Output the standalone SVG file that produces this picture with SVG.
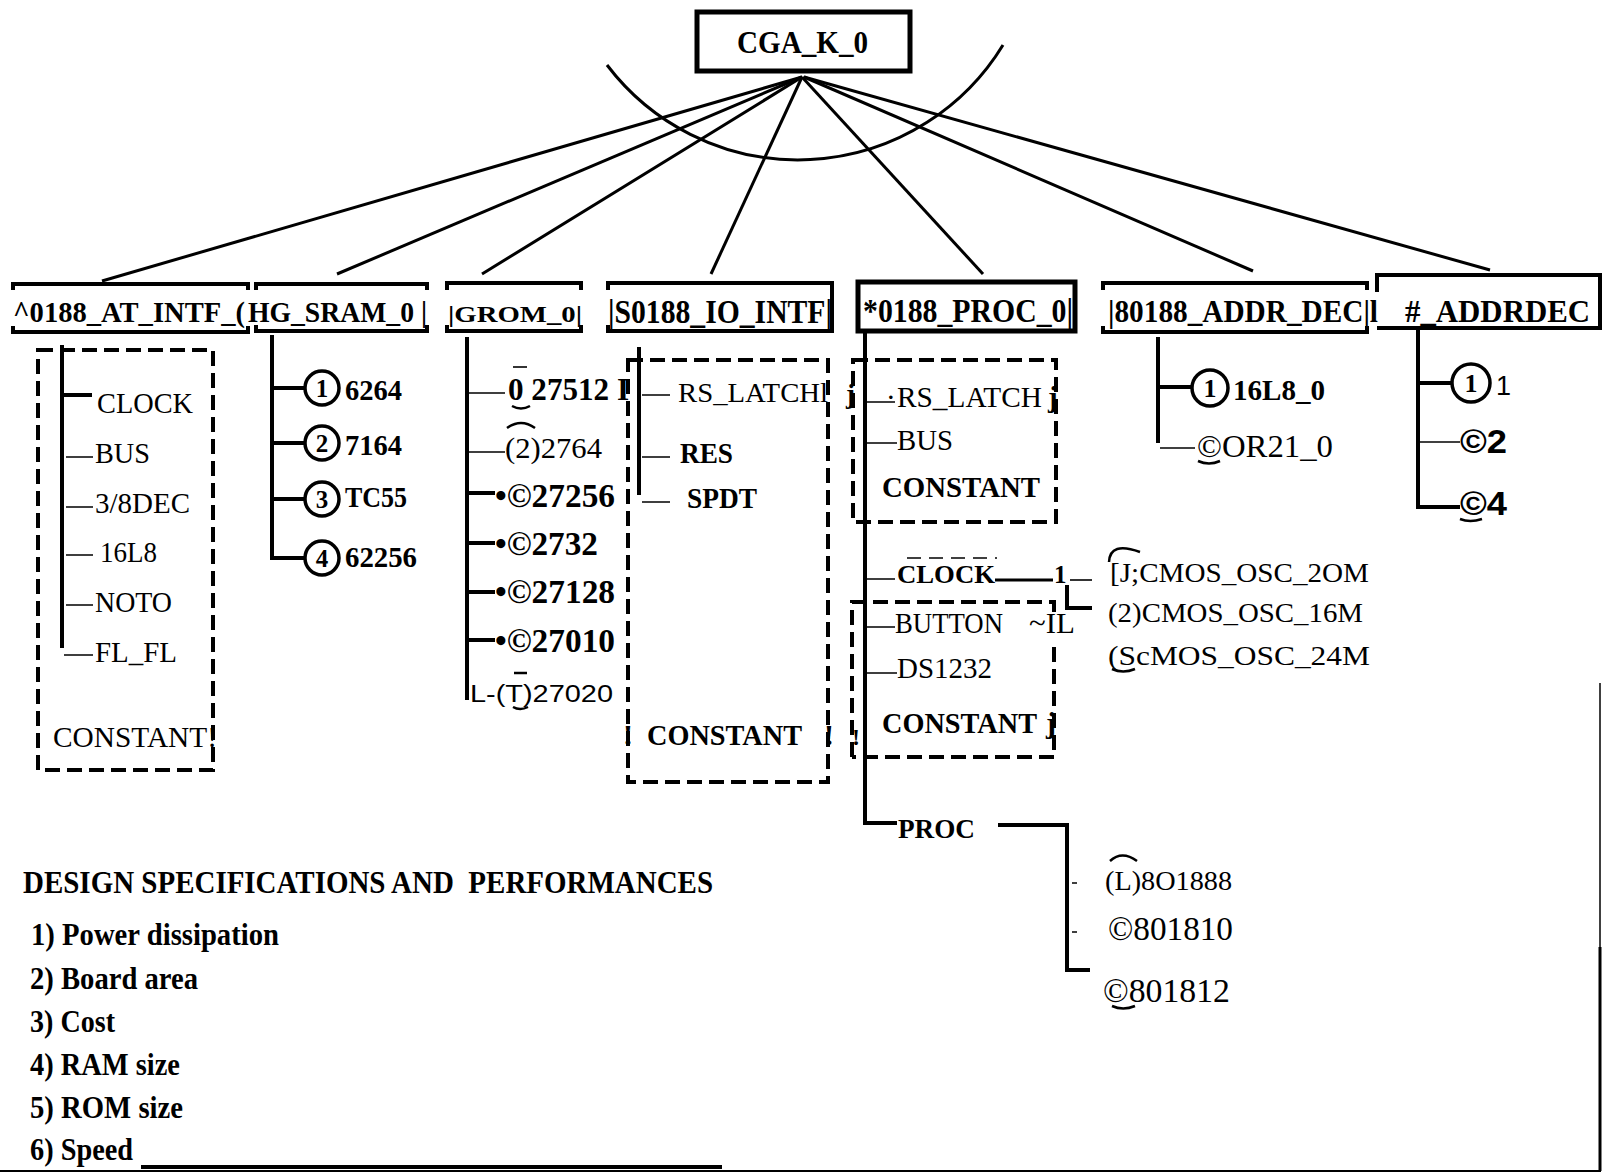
<svg xmlns="http://www.w3.org/2000/svg" width="1602" height="1173" viewBox="0 0 1602 1173">
<style>
.t{font-family:"Liberation Serif","Times New Roman",serif;fill:#000}
.s{font-family:"Liberation Sans",Arial,sans-serif;fill:#000}
.b{font-weight:bold}
.ln{stroke:#000;fill:none;stroke-width:4}
.th{stroke:#000;fill:none;stroke-width:1.6}
.hub{stroke:#000;fill:none;stroke-width:3}
.dash{stroke:#000;fill:none;stroke-width:4;stroke-dasharray:15 7}
.cir{stroke:#000;fill:#fff;stroke-width:3.5}
.mk{stroke:#000;fill:none;stroke-width:2.5}
</style>
<rect width="1602" height="1173" fill="#fff"/>

<g id="connectors">
  <path class="hub" d="M607 65 A240 240 0 0 0 1003 45"/>
  <path class="hub" d="M802 77 L102 281"/>
  <path class="hub" d="M802 77 L337 274"/>
  <path class="hub" d="M802 77 L482 274"/>
  <path class="hub" d="M802 77 L711 274"/>
  <path class="hub" d="M802 77 L983 274"/>
  <path class="hub" d="M804 77 L1253 271"/>
  <path class="hub" d="M804 77 L1490 270"/>
  <!-- AT_INTF tree -->
  <path class="ln" d="M62 345 V648"/>
  <path class="ln" d="M62 395 H92"/>
  <path class="th" d="M66 457 H93 M66 507 H93 M66 555 H93 M66 605 H93 M64 655 H93"/>
  <!-- SRAM tree -->
  <path class="ln" d="M272 335 V558 H305 M272 388 H305 M272 499 H305"/>
  <path class="ln" stroke-width="5" d="M272 443 H305"/>
  <!-- GROM tree -->
  <path class="ln" d="M467 337 V700"/>
  <path class="th" d="M467 393 H505 M467 452 H505"/>
  <path class="ln" d="M467 493 H495 M467 543 H495 M467 592 H495 M467 640 H495"/>
  <!-- IO tree -->
  <path class="ln" d="M639 347 V495"/>
  <path class="th" d="M642 395 H670 M642 457 H670 M642 502 H670"/>
  <!-- PROC tree -->
  <path class="ln" d="M865 331 V823 H897"/>
  <path class="th" d="M865 402 H895 M865 443 H897 M865 579 H895 M865 627 H895 M865 673 H897"/>
  <path class="hub" d="M995 580 H1053"/>
  <path class="th" d="M1070 580 H1092"/>
  <path class="ln" stroke-width="5" d="M1067 585 V608 H1092"/>
  <path class="th" stroke-width="2.5" stroke-dasharray="14 8" d="M907 558 H997"/>
  <path class="ln" d="M998 825 H1067 V970 H1090"/>
  <path class="th" d="M1072 883 H1077 M1072 932 H1077"/>
  <!-- ADDR_DEC tree -->
  <path class="ln" d="M1158 337 V443 M1158 387 H1192"/>
  <path class="th" d="M1160 448 H1195"/>
  <!-- #_ADDRDEC tree -->
  <path class="ln" d="M1418 330 V507 H1460"/>
  <path class="ln" stroke-width="5" d="M1418 383 H1453"/>
  <path class="th" stroke-width="2" d="M1418 442 H1460"/>
</g>

<g id="cga_k_0">
  <rect x="697" y="12" width="213" height="59" fill="none" stroke="#000" stroke-width="5"/>
  <text class="t b" x="737" y="53" font-size="31" textLength="131" lengthAdjust="spacingAndGlyphs">CGA_K_0</text>
</g>

<g id="at_intf">
  <path class="ln" d="M13 290 V284 H248 V290 M13 326 V332 H248 V326"/>
  <text class="t b" x="13" y="322" font-size="29" textLength="232" lengthAdjust="spacingAndGlyphs">^0188_AT_INTF_(</text>
  <rect class="dash" x="38" y="350" width="175" height="420"/>
  <text class="t" x="97" y="413" font-size="30" textLength="96" lengthAdjust="spacingAndGlyphs">CLOCK</text>
  <text class="t" x="95" y="463" font-size="30" textLength="55" lengthAdjust="spacingAndGlyphs">BUS</text>
  <text class="t" x="95" y="513" font-size="30" textLength="95" lengthAdjust="spacingAndGlyphs">3/8DEC</text>
  <text class="t" x="100" y="562" font-size="30" textLength="57" lengthAdjust="spacingAndGlyphs">16L8</text>
  <text class="t" x="95" y="612" font-size="30" textLength="77" lengthAdjust="spacingAndGlyphs">NOTO</text>
  <text class="t" x="95" y="662" font-size="30" textLength="82" lengthAdjust="spacingAndGlyphs">FL_FL</text>
  <text class="t" x="53" y="747" font-size="30" textLength="164" lengthAdjust="spacingAndGlyphs">CONSTANT!</text>
</g>

<g id="sram">
  <path class="ln" d="M256 290 V284 H427 V290 M256 325 V331 H427 V325"/>
  <text class="t b" x="248" y="322" font-size="29" textLength="179" lengthAdjust="spacingAndGlyphs">HG_SRAM_0 |</text>
  <circle class="cir" cx="322" cy="388" r="17"/>
  <circle class="cir" cx="322" cy="443" r="17"/>
  <circle class="cir" cx="322" cy="499" r="17"/>
  <circle class="cir" cx="322" cy="558" r="17"/>
  <text class="t b" x="322" y="397" font-size="25" text-anchor="middle">1</text>
  <text class="t b" x="322" y="452" font-size="25" text-anchor="middle">2</text>
  <text class="t b" x="322" y="508" font-size="25" text-anchor="middle">3</text>
  <text class="t b" x="322" y="567" font-size="25" text-anchor="middle">4</text>
  <text class="t b" x="345" y="400" font-size="30" textLength="57" lengthAdjust="spacingAndGlyphs">6264</text>
  <text class="t b" x="345" y="455" font-size="30" textLength="57" lengthAdjust="spacingAndGlyphs">7164</text>
  <text class="t b" x="345" y="507" font-size="30" textLength="62" lengthAdjust="spacingAndGlyphs">TC55</text>
  <text class="t b" x="345" y="567" font-size="30" textLength="72" lengthAdjust="spacingAndGlyphs">62256</text>
</g>

<g id="grom">
  <path class="ln" d="M447 290 V283 H581 V290 M447 325 V331 H581 V325"/>
  <text class="t b" x="448" y="322" font-size="24" textLength="134" lengthAdjust="spacingAndGlyphs">|GROM_0|</text>
  <text class="t b" x="508" y="400" font-size="32" textLength="121" lengthAdjust="spacingAndGlyphs">0 27512 I</text>
  <text class="t" x="505" y="458" font-size="30" textLength="97" lengthAdjust="spacingAndGlyphs">(2)2764</text>
  <text class="t b" x="495" y="507" font-size="33" textLength="120" lengthAdjust="spacingAndGlyphs">•©27256</text>
  <text class="t b" x="495" y="555" font-size="33" textLength="103" lengthAdjust="spacingAndGlyphs">•©2732</text>
  <text class="t b" x="495" y="603" font-size="33" textLength="120" lengthAdjust="spacingAndGlyphs">•©27128</text>
  <text class="t b" x="495" y="652" font-size="33" textLength="120" lengthAdjust="spacingAndGlyphs">•©27010</text>
  <text class="s" x="470" y="702" font-size="23" textLength="143" lengthAdjust="spacingAndGlyphs">L-(T)27020</text>
  <path class="th" d="M513 367 H527"/>
  <path class="mk" d="M512 406 Q521 411 530 406"/>
  <path class="mk" stroke-width="3" d="M507 428 Q521 418 535 428"/>
  <path class="mk" stroke-width="3" d="M514 673 H527"/>
  <path class="mk" d="M513 707 Q520 711 528 707"/>
</g>

<g id="io_intf">
  <path class="ln" d="M608 290 V283 H832 V331 H608 V325"/>
  <text class="t b" x="608" y="323" font-size="34" textLength="224" lengthAdjust="spacingAndGlyphs">|S0188_IO_INTF|</text>
  <rect class="dash" x="628" y="360" width="200" height="422"/>
  <text class="t" x="678" y="402" font-size="28" textLength="150" lengthAdjust="spacingAndGlyphs">RS_LATCHl</text>
  <text class="t b" x="680" y="463" font-size="30" textLength="53" lengthAdjust="spacingAndGlyphs">RES</text>
  <text class="t b" x="687" y="508" font-size="30" textLength="70" lengthAdjust="spacingAndGlyphs">SPDT</text>
  <text class="t b" y="745" font-size="30"><tspan x="623">!</tspan><tspan x="647" textLength="155" lengthAdjust="spacingAndGlyphs">CONSTANT</tspan><tspan x="824">!</tspan></text>
</g>

<g id="proc">
  <rect x="858" y="282" width="217" height="49" fill="none" stroke="#000" stroke-width="5"/>
  <text class="t b" x="863" y="322" font-size="33" textLength="210" lengthAdjust="spacingAndGlyphs">*0188_PROC_0|</text>
  <rect class="dash" x="853" y="360" width="203" height="162"/>
  <text class="t b" x="846" y="403" font-size="27">j</text>
  <text class="t" y="407" font-size="29"><tspan x="886">·</tspan><tspan x="897" textLength="145" lengthAdjust="spacingAndGlyphs">RS_LATCH</tspan><tspan x="1048" font-weight="bold">j</tspan></text>
  <text class="t" x="897" y="450" font-size="29" textLength="56" lengthAdjust="spacingAndGlyphs">BUS</text>
  <text class="t b" x="882" y="497" font-size="30" textLength="158" lengthAdjust="spacingAndGlyphs">CONSTANT</text>
  <text class="t b" x="897" y="583" font-size="25" textLength="98" lengthAdjust="spacingAndGlyphs">CLOCK</text>
  <text class="t b" x="1054" y="583" font-size="25">1</text>
  <path class="dash" d="M852 757 V602 H1054 V613 M1054 647 V757 H852"/>
  <text class="t" x="895" y="633" font-size="29" textLength="108" lengthAdjust="spacingAndGlyphs">BUTTON</text>
  <text class="t" x="1029" y="633" font-size="29" textLength="46" lengthAdjust="spacingAndGlyphs">~IL</text>
  <text class="t" x="897" y="678" font-size="29" textLength="95" lengthAdjust="spacingAndGlyphs">DS1232</text>
  <text class="t b" y="733" font-size="30"><tspan x="882" textLength="155" lengthAdjust="spacingAndGlyphs">CONSTANT</tspan><tspan x="1046">j</tspan></text>
  <text class="t b" x="852" y="745" font-size="24">!</text>
  <text class="t" x="1110" y="582" font-size="28" textLength="259" lengthAdjust="spacingAndGlyphs">[J;CMOS_OSC_2OM</text>
  <text class="t" x="1108" y="622" font-size="28" textLength="255" lengthAdjust="spacingAndGlyphs">(2)CMOS_OSC_16M</text>
  <text class="t" x="1108" y="665" font-size="28" textLength="262" lengthAdjust="spacingAndGlyphs">(ScMOS_OSC_24M</text>
  <path class="mk" stroke-width="3" d="M1109 562 Q1110 541 1140 552"/>
  <path class="mk" d="M1112 669 Q1123 674 1135 669"/>
  <text class="t b" x="898" y="838" font-size="28" textLength="77" lengthAdjust="spacingAndGlyphs">PROC</text>
  <text class="t" x="1105" y="890" font-size="28" textLength="127" lengthAdjust="spacingAndGlyphs">(L)8O1888</text>
  <text class="t" x="1108" y="940" font-size="33" textLength="125" lengthAdjust="spacingAndGlyphs">©801810</text>
  <text class="t" x="1103" y="1002" font-size="34" textLength="127" lengthAdjust="spacingAndGlyphs">©801812</text>
  <path class="mk" stroke-width="3" d="M1110 861 Q1122 850 1137 861"/>
  <path class="mk" d="M1112 1006 Q1123 1011 1135 1006"/>
</g>

<g id="addr_dec">
  <path class="ln" d="M1103 290 V283 H1367 V290 M1103 326 V332 H1367 V326"/>
  <text class="t b" x="1108" y="322" font-size="32" textLength="270" lengthAdjust="spacingAndGlyphs">|80188_ADDR_DEC|l</text>
  <circle class="cir" cx="1210" cy="388" r="18"/>
  <text class="t b" x="1210" y="397" font-size="26" text-anchor="middle">1</text>
  <text class="t b" x="1233" y="400" font-size="30" textLength="92" lengthAdjust="spacingAndGlyphs">16L8_0</text>
  <text class="t" x="1197" y="457" font-size="31" textLength="136" lengthAdjust="spacingAndGlyphs">©OR21_0</text>
  <path class="mk" d="M1198 461 Q1209 466 1220 461"/>
</g>

<g id="hash_addrdec">
  <path class="ln" d="M1377 292 V275 H1600 V328 H1377"/>
  <text class="t b" x="1405" y="322" font-size="32" textLength="185" lengthAdjust="spacingAndGlyphs">#_ADDRDEC</text>
  <circle class="cir" cx="1471" cy="383" r="19"/>
  <text class="t b" x="1471" y="392" font-size="26" text-anchor="middle">1</text>
  <text class="s" x="1496" y="395" font-size="27">1</text>
  <text class="s b" x="1460" y="453" font-size="33" textLength="47" lengthAdjust="spacingAndGlyphs">©2</text>
  <text class="s b" x="1460" y="515" font-size="33" textLength="47" lengthAdjust="spacingAndGlyphs">©4</text>
  <path class="mk" d="M1460 519 Q1470 523 1482 519"/>
</g>

<g id="specs">
  <text class="t b" x="23" y="893" font-size="31" textLength="690" lengthAdjust="spacingAndGlyphs" style="white-space:pre">DESIGN SPECIFICATIONS AND  PERFORMANCES</text>
  <text class="t b" x="31" y="945" font-size="31" textLength="248" lengthAdjust="spacingAndGlyphs">1) Power dissipation</text>
  <text class="t b" x="30" y="989" font-size="31" textLength="168" lengthAdjust="spacingAndGlyphs">2) Board area</text>
  <text class="t b" x="30" y="1032" font-size="31" textLength="85" lengthAdjust="spacingAndGlyphs">3) Cost</text>
  <text class="t b" x="30" y="1075" font-size="31" textLength="150" lengthAdjust="spacingAndGlyphs">4) RAM size</text>
  <text class="t b" x="30" y="1118" font-size="31" textLength="153" lengthAdjust="spacingAndGlyphs">5) ROM size</text>
  <text class="t b" x="30" y="1160" font-size="31" textLength="103" lengthAdjust="spacingAndGlyphs">6) Speed</text>
  <path class="ln" d="M141 1167 H722"/>
</g>

<g id="frame">
  <path stroke="#000" stroke-width="2" fill="none" d="M0 1171 H1601"/>
  <path stroke="#000" stroke-width="1.5" fill="none" d="M1600 683 V947"/>
  <path stroke="#000" stroke-width="3" fill="none" d="M1600 947 V1171"/>
</g>
</svg>
